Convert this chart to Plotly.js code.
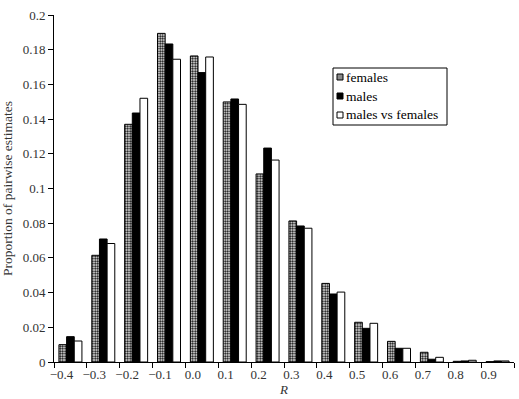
<!DOCTYPE html>
<html>
<head>
<meta charset="utf-8">
<script src="https://cdn.plot.ly/plotly-3.0.1.min.js"></script>
<style>html,body{margin:0;padding:0;background:#fff;}#chart{width:519px;height:399px;}</style>
</head>
<body>
<div id="chart"></div>
<script>
const categories = ['\u22120.4','\u22120.3','\u22120.2','\u22120.1','0.0','0.1','0.2','0.3','0.4','0.5','0.6','0.7','0.8','0.9'];
const females = [0.0100, 0.0615, 0.1370, 0.1894, 0.1764, 0.1499, 0.1084, 0.0813, 0.0453, 0.0229, 0.0119, 0.0056, 0.0004, 0.0002];
const males   = [0.0146, 0.0709, 0.1435, 0.1833, 0.1668, 0.1516, 0.1233, 0.0784, 0.0392, 0.0194, 0.0079, 0.0016, 0.0006, 0.0006];
const malesVsFemales = [0.0121, 0.0683, 0.1520, 0.1745, 0.1758, 0.1485, 0.1164, 0.0771, 0.0403, 0.0223, 0.0079, 0.0027, 0.0010, 0.0006];
const seriesNames = ['females', 'males', 'males vs females'];
const yTickVals = [0, 0.02, 0.04, 0.06, 0.08, 0.1, 0.12, 0.14, 0.16, 0.18, 0.2];
const yTickText = ['0','0.02','0.04','0.06','0.08','0.1','0.12','0.14','0.16','0.18','0.2'];

const FONT = 'Liberation Serif';
const line = {color: '#000', width: 1};
const traces = [
  {type: 'bar', name: seriesNames[0], x: categories, y: females,
   marker: {color: '#fff', line: line, pattern: {shape: '.', fgcolor: '#000', bgcolor: '#fff', size: 2.5, solidity: 0.5}}},
  {type: 'bar', name: seriesNames[1], x: categories, y: males,
   marker: {color: '#000', line: line}},
  {type: 'bar', name: seriesNames[2], x: categories, y: malesVsFemales,
   marker: {color: '#fff', line: line}}
];

// custom compact legend (box, swatches, labels) in paper coordinates
const plotL = 54, plotR = 514, plotT = 15, plotB = 362;
const px = v => (v - plotL) / (plotR - plotL);
const py = v => (plotB - v) / (plotB - plotT);
const swatchFill = ['#8a8a8a', '#000', '#fff'];
const shapes = [{type: 'rect', xref: 'paper', yref: 'paper', x0: px(333), x1: px(447), y0: py(125), y1: py(68),
                 line: {color: '#000', width: 1}, fillcolor: '#fff', layer: 'above'}];
const annotations = [];
seriesNames.forEach((n, i) => {
  const cy = 77 + i * 19;
  shapes.push({type: 'rect', xref: 'paper', yref: 'paper', x0: px(337), x1: px(343), y0: py(cy + 3), y1: py(cy - 3),
               line: {color: '#000', width: 1}, fillcolor: swatchFill[i], layer: 'above'});
  annotations.push({xref: 'paper', yref: 'paper', x: px(344), y: py(cy), xanchor: 'left', yanchor: 'middle',
                    text: n, showarrow: false, font: {family: FONT, size: 13.5, color: '#000'}});
});

const layout = {
  width: 519, height: 399,
  margin: {l: 54, r: 5, t: 15, b: 37},
  paper_bgcolor: '#fff', plot_bgcolor: '#fff',
  font: {family: FONT, size: 13, color: '#000'},
  barmode: 'group', bargap: 0.3, bargroupgap: 0,
  showlegend: false,
  shapes: shapes, annotations: annotations,
  xaxis: {type: 'category', showline: true, linecolor: '#000', linewidth: 1,
          ticks: 'outside', tickson: 'boundaries', ticklen: 5, tickcolor: '#000',
          showgrid: false, zeroline: false, ticklabelshift: -9, tickangle: 0,
          tickfont: {family: FONT, size: 13, color: '#333'},
          title: {text: '<i>R</i>', standoff: 2, font: {family: FONT, size: 13, color: '#333'}}},
  yaxis: {range: [0, 0.2], showline: true, linecolor: '#000', linewidth: 1,
          ticks: 'outside', ticklen: 5, tickcolor: '#000',
          tickvals: yTickVals, ticktext: yTickText,
          showgrid: false, zeroline: false,
          tickfont: {family: FONT, size: 13, color: '#333'},
          title: {text: 'Proportion of pairwise estimates', standoff: 6, font: {family: FONT, size: 13.5, color: '#333'}}}
};
Plotly.newPlot('chart', traces, layout, {displayModeBar: false, staticPlot: true});
</script>
</body>
</html>
